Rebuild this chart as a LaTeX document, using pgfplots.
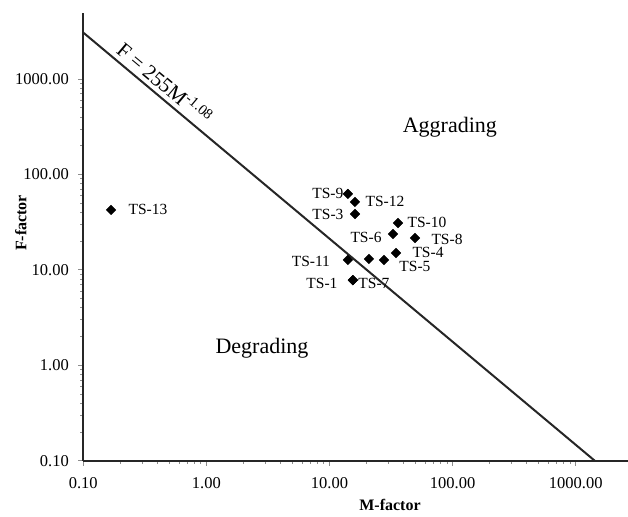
\documentclass[border=0pt]{standalone}
\usepackage{pgfplots}
\pgfplotsset{compat=1.18}
\usepackage{fontspec}
\setmainfont{Liberation Serif}

\begin{document}
\begin{tikzpicture}
\begin{axis}[
  scale only axis,
  width=544.7pt, height=447.7pt,
  xmode=log, ymode=log,
  xmin=0.1, xmax=2660,
  ymin=0.1, ymax=4920,
  axis x line=bottom, axis y line=left,
  axis line style={-, line width=2.2pt, black!85},
  xtick={0.1,1,10,100,1000},
  xticklabels={0.10,1.00,10.00,100.00,1000.00},
  ytick={0.1,1,10,100,1000},
  yticklabels={0.10,1.00,10.00,100.00,1000.00},
  minor tick num=0,
  tick align=outside,
  major tick length=5pt,
  tick style={black!45, line width=0.8pt},
  ticklabel style={font=\fontsize{16.5}{19}\selectfont},
  xticklabel style={yshift=-8pt},
  yticklabel style={xshift=-6pt},
  xlabel={\textbf{M-factor}},
  ylabel={\textbf{F-factor}},
  every axis x label/.style={at={(axis description cs:0.563,0)}, yshift=-44pt, anchor=center, font=\fontsize{16}{19}\selectfont},
  every axis y label/.style={at={(axis description cs:0,0.531)}, xshift=-62.6pt, rotate=90, anchor=center, font=\fontsize{16}{19}\selectfont},
  clip=false,
]
% threshold line F = 255 M^-1.08
\addplot[black!85, line width=2pt] coordinates {(0.1,3066) (1427,0.1)};

% labelled samples
\addplot[
  only marks, mark=square*, mark size=3.4pt,
  mark options={rotate=45, fill=black, draw=black},
  point meta=explicit symbolic,
  visualization depends on={value \thisrow{xs} \as \xs},
  visualization depends on={value \thisrow{ys} \as \ys},
  nodes near coords,
  nodes near coords style={anchor=center, xshift=\xs pt, yshift=\ys pt,
    font=\fontsize{15.5}{18}\selectfont, text=black},
] table[meta=label] {
x     y     label  xs   ys
0.168 42.5  TS-13  37   0
14.1  62.5  TS-9   -20  0
16.1  51.5  TS-12  30   0
16.1  38.5  TS-3   -27  0
36.0  31.0  TS-10  29   1
32.8  23.8  TS-6   -27  -4
49.5  21.6  TS-8   32   -1
34.7  15.0  TS-4   32   1
27.7  12.7  TS-5   31   -6
14.1  12.7  TS-11  -37  -1
15.5  7.8   TS-1   -31  -3
15.5  7.8   TS-7   21   -3
};
% unlabelled sample
\addplot[only marks, mark=square*, mark size=3.4pt,
  mark options={rotate=45, fill=black, draw=black}]
  coordinates {(20.9,13.0)};

\node[rotate=-40, font=\fontsize{21}{24}\selectfont] at (axis cs:0.461,910)
  {F = 255M\textsuperscript{-1.08}};
\node[font=\fontsize{22}{26}\selectfont] at (axis cs:95,315) {Aggrading};
\node[font=\fontsize{22}{26}\selectfont] at (axis cs:2.83,1.52) {Degrading};
\end{axis}
\pgfresetboundingbox
\path ([shift={(-83.3pt,-55.3pt)}]current axis.south west)
  rectangle ([shift={(0pt,13pt)}]current axis.north east);
\end{tikzpicture}
\end{document}
